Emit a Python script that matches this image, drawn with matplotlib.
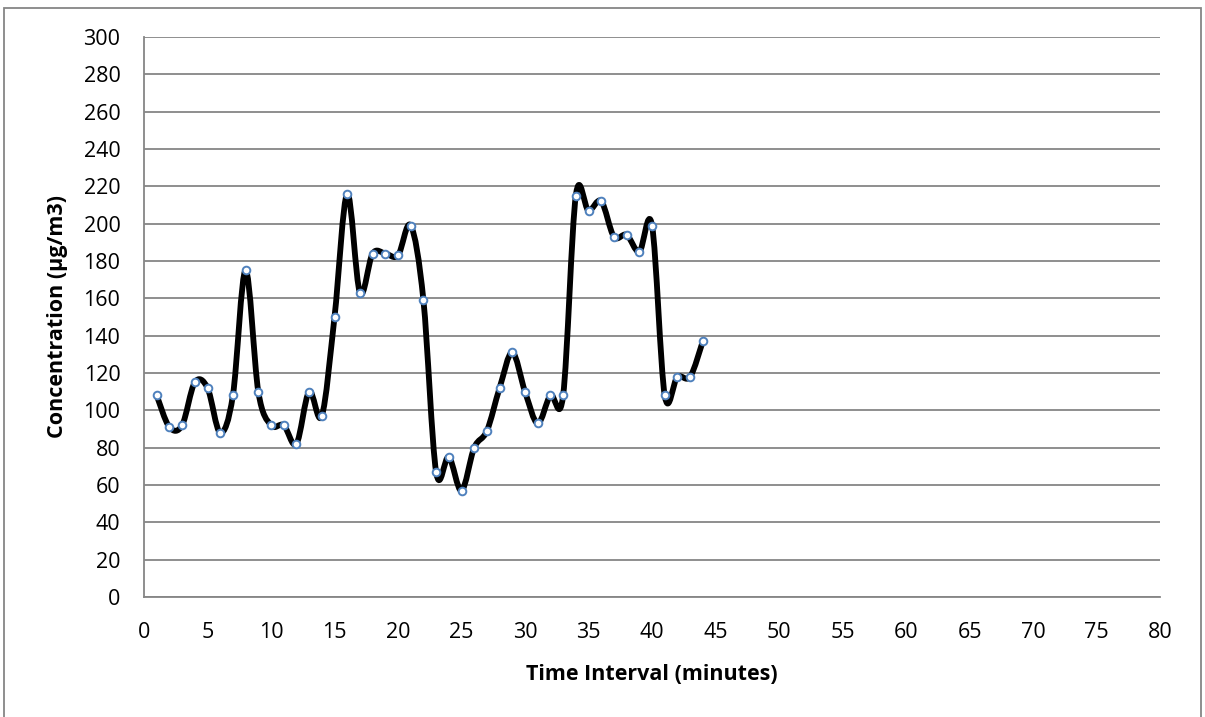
import matplotlib.pyplot as plt
import numpy as np
from matplotlib.path import Path
from matplotlib.patches import PathPatch, Rectangle

# data (minute, concentration)
minutes = list(range(1, 45))
conc = [108, 91, 92, 115, 112, 88, 108, 175, 110, 92,
        92, 82, 110, 97, 150, 216, 163, 184, 184, 183,
        199, 159, 67, 75, 57, 80, 89, 112, 131, 110,
        93, 108, 108, 215, 207, 212, 193, 194, 185, 199,
        108, 118, 118, 137]

xticks = list(range(0, 85, 5))
yticks = list(range(0, 320, 20))

plt.rcParams['font.family'] = ['Open Sans', 'DejaVu Sans']

fig = plt.figure(figsize=(12.05, 7.17), dpi=100)
ax = fig.add_axes([0.1195, 0.1674, 0.8432, 0.781])

# outer chart border (bottom edge falls outside the image)
fig.patches.append(Rectangle((0.0035, -0.05), 0.9935, 1.039, transform=fig.transFigure,
                             fill=False, edgecolor='#868686', linewidth=1.3))


# Excel-style smoothed line: cubic bezier with control points from neighbours
def smooth_path(x, y):
    pts = np.column_stack([x, y]).astype(float)
    n = len(pts)
    verts = [pts[0]]
    codes = [Path.MOVETO]
    for i in range(n - 1):
        p0 = pts[i - 1] if i > 0 else pts[i]
        p1 = pts[i]
        p2 = pts[i + 1]
        p3 = pts[i + 2] if i + 2 < n else pts[i + 1]
        c1 = p1 + (p2 - p0) / 6.0
        c2 = p2 - (p3 - p1) / 6.0
        verts += [c1, c2, p2]
        codes += [Path.CURVE4] * 3
    return Path(verts, codes)


ax.add_patch(PathPatch(smooth_path(minutes, conc), facecolor='none',
                       edgecolor='black', linewidth=4.2, zorder=3,
                       capstyle='round', joinstyle='round'))
ax.plot(minutes, conc, linestyle='none', marker='o', markersize=5.5,
        markerfacecolor='white', markeredgecolor='#4F81BD',
        markeredgewidth=1.4, zorder=4)

ax.set_xlim(0, 80)
ax.set_ylim(0, 300)
ax.set_xticks(xticks)
ax.set_yticks(yticks)
ax.tick_params(axis='both', length=0, labelsize=15.5)
ax.tick_params(axis='x', pad=18)
ax.tick_params(axis='y', pad=17)
ax.yaxis.grid(True, color='#868686', linewidth=1.3)
ax.set_axisbelow(True)
for s in ['top', 'right']:
    ax.spines[s].set_visible(False)
for s in ['left', 'bottom']:
    ax.spines[s].set_color('#868686')
    ax.spines[s].set_linewidth(1.3)

ax.set_xlabel('Time Interval (minutes)', fontsize=15.5, fontweight='bold', labelpad=15)
ax.set_ylabel('Concentration (µg/m3)', fontsize=15.5, fontweight='bold', labelpad=11)

fig.savefig('out.png', dpi=100)
